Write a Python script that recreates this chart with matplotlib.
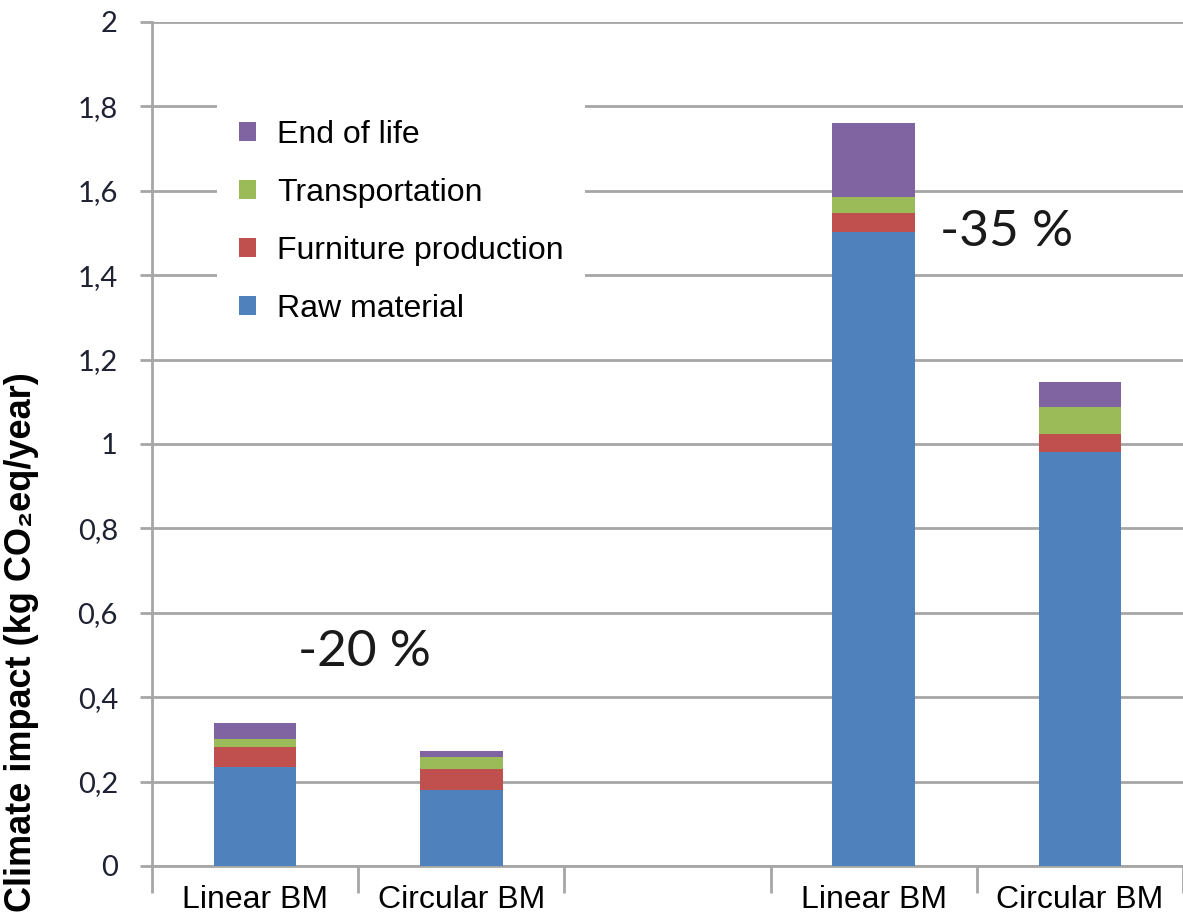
import matplotlib
matplotlib.use('Agg')
import matplotlib.pyplot as plt
from matplotlib.ticker import FixedLocator, FuncFormatter

# Data
positions = [0, 1, 3, 4]
categories = ["Linear BM", "Circular BM", "Linear BM", "Circular BM"]
raw_material = [0.235, 0.180, 1.502, 0.981]
furniture_production = [0.047, 0.050, 0.045, 0.043]
transportation = [0.019, 0.028, 0.038, 0.064]
end_of_life = [0.038, 0.014, 0.176, 0.059]

series = [
    ("Raw material", raw_material, '#4F81BD'),
    ("Furniture production", furniture_production, '#C0504D'),
    ("Transportation", transportation, '#9BBB59'),
    ("End of life", end_of_life, '#8064A2'),
]

W, H = 1183, 919
fig = plt.figure(figsize=(W / 100, H / 100), dpi=100)
ax = fig.add_axes([152 / W, 1 - 866 / H, 1 - 152 / W, (866 - 22) / H])

grid_col = '#a6a6a6'

# Stacked bars
bottoms = [0.0] * len(positions)
handles = []
for name, vals, col in series:
    h = ax.bar(positions, vals, bottom=bottoms, width=0.4, color=col,
               edgecolor='none', label=name, zorder=3)
    handles.append(h)
    bottoms = [b + v for b, v in zip(bottoms, vals)]

# Axes styling
ax.set_xlim(-0.5, 4.5)
ax.set_ylim(0, 2)
ax.yaxis.set_major_locator(FixedLocator([i * 0.2 for i in range(11)]))
ax.yaxis.set_major_formatter(FuncFormatter(
    lambda v, p: ("%g" % round(v, 1)).replace('.', ',')))
ax.grid(axis='y', color=grid_col, linewidth=2, zorder=0)
for s in ['top', 'right']:
    ax.spines[s].set_visible(False)
for s in ['left', 'bottom']:
    ax.spines[s].set_color(grid_col)
    ax.spines[s].set_linewidth(2)
    ax.spines[s].set_zorder(1)

ax.set_xticks(positions)
ax.set_xticklabels(categories, fontsize=23, family='Liberation Sans', color='black')
ax.set_xticks([-0.5, 0.5, 1.5, 2.5, 3.5, 4.5], minor=True)
ax.tick_params(axis='x', which='major', length=0, pad=14)
ax.tick_params(axis='x', which='minor', length=19.5, width=2, color=grid_col)
ax.tick_params(axis='y', length=8.5, width=2, color=grid_col, pad=16,
               labelsize=21, labelcolor='#1f2233')
for t in ax.get_yticklabels():
    t.set_family('Lato')

# Reduction annotations
ax.text(0.53, 0.507, "-20 %", ha='center', va='center', fontsize=37,
        family='Lato', color='#1a1a1a')
ax.text(3.645, 1.502, "-35 %", ha='center', va='center', fontsize=37,
        family='Lato', color='#1a1a1a')

# Legend
leg = ax.legend(handles=handles[::-1], loc='upper left',
                bbox_to_anchor=(217 / W, 1 - 98 / H), bbox_transform=fig.transFigure,
                frameon=True, facecolor='white', edgecolor='none',
                framealpha=1, handlelength=0.55, handleheight=0.55,
                handletextpad=0.65, labelspacing=0.88, borderpad=0.68,
                borderaxespad=0, prop={'family': 'Liberation Sans', 'size': 23})
leg.get_frame().set_boxstyle('square', pad=0)
leg.set_zorder(5)

# Y label
fig.text(22 / W, 1 - 642 / H, "Climate impact (kg CO\u2082eq/year)", rotation=90,
         ha='center', va='center', fontsize=26, fontweight='bold',
         family=['Liberation Sans', 'DejaVu Sans'])

fig.savefig('out.png', dpi=100)
